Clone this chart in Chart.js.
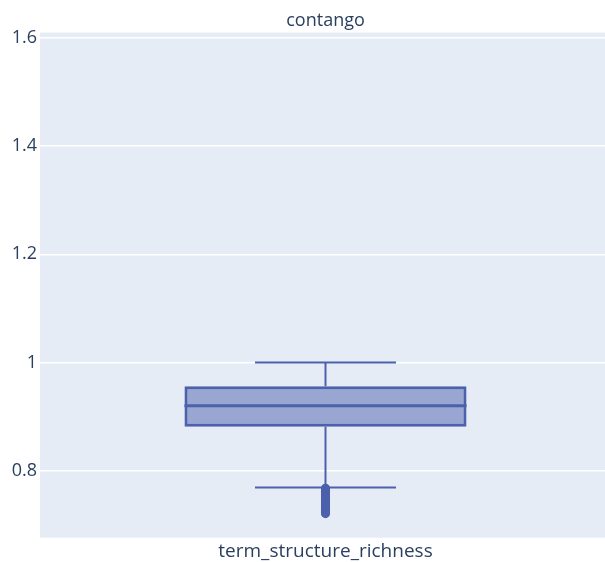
<!DOCTYPE html>
<html>
<head>
<meta charset="utf-8">
<script src="https://cdn.jsdelivr.net/npm/chart.js@4"></script>
<style>
  html, body { margin: 0; padding: 0; background: #fff; overflow: hidden; }
  #wrap { position: relative; width: 611px; height: 562px; }
  #chart { display: block; }
</style>
</head>
<body>
<div id="wrap"><canvas id="chart"></canvas></div>
<script>
const categories = ["term_structure_richness"];
const lowerFence = [0.7686];
const q1 = [0.881];
const median = [0.920];
const q3 = [0.956];
const upperFence = [1.0];
const outliers = [0.7675, 0.766, 0.764, 0.762, 0.760, 0.757, 0.755, 0.752, 0.749, 0.746,
  0.743, 0.740, 0.737, 0.734, 0.731, 0.728, 0.725, 0.7225, 0.7205];
const yTicks = [0.8, 1, 1.2, 1.4, 1.6];

const lineColor = "#4c60ab";
const textColor = "#2a3f5f";
const fontFamily = "'Open Sans', verdana, arial, sans-serif";

const plotBg = {
  id: "plotBg",
  beforeDraw(chart) {
    const { ctx, chartArea: a } = chart;
    ctx.save();
    ctx.fillStyle = "#e5ecf6";
    ctx.fillRect(a.left, a.top, a.right - a.left, a.bottom - a.top);
    ctx.restore();
  }
};

// median line and whiskers, drawn from the bar element and the y scale
const boxParts = {
  id: "boxParts",
  afterDatasetDraw(chart, args) {
    if (args.index !== 1) return;
    const { ctx } = chart;
    const y = chart.scales.y;
    args.meta.data.forEach((bar, i) => {
      const cx = bar.x;
      const half = bar.width / 2;
      ctx.save();
      ctx.strokeStyle = lineColor;
      ctx.lineWidth = 3;
      ctx.beginPath();
      ctx.moveTo(cx - half, y.getPixelForValue(median[i]));
      ctx.lineTo(cx + half, y.getPixelForValue(median[i]));
      ctx.stroke();
      ctx.lineWidth = 2;
      ctx.beginPath();
      ctx.moveTo(cx, y.getPixelForValue(q3[i]));
      ctx.lineTo(cx, y.getPixelForValue(upperFence[i]));
      ctx.moveTo(cx - half / 2, y.getPixelForValue(upperFence[i]));
      ctx.lineTo(cx + half / 2, y.getPixelForValue(upperFence[i]));
      ctx.moveTo(cx, y.getPixelForValue(q1[i]));
      ctx.lineTo(cx, y.getPixelForValue(lowerFence[i]));
      ctx.moveTo(cx - half / 2, y.getPixelForValue(lowerFence[i]));
      ctx.lineTo(cx + half / 2, y.getPixelForValue(lowerFence[i]));
      ctx.stroke();
      ctx.restore();
    });
  }
};

new Chart(document.getElementById("chart"), {
  data: {
    labels: categories,
    datasets: [
      {
        type: "line",
        order: 0,
        showLine: false,
        data: outliers.map((v) => ({ x: categories[0], y: v })),
        pointRadius: 4.5,
        pointBackgroundColor: lineColor,
        pointBorderWidth: 0
      },
      {
        type: "bar",
        order: 1,
        data: categories.map((c, i) => [q1[i], q3[i]]),
        backgroundColor: "rgba(76,96,171,0.5)",
        borderColor: lineColor,
        borderWidth: 3,
        borderSkipped: false,
        barPercentage: 0.494,
        categoryPercentage: 1
      }
    ]
  },
  options: {
    responsive: true,
    maintainAspectRatio: false,
    animation: false,
    layout: { autoPadding: false, padding: 0 },
    plugins: {
      legend: { display: false },
      tooltip: { enabled: false },
      title: {
        display: true,
        text: "contango",
        fullSize: false,
        color: textColor,
        font: { family: fontFamily, size: 18, weight: "normal" },
        padding: { top: 10, bottom: 1 }
      }
    },
    scales: {
      x: {
        afterFit: (scale) => { scale.height = 24.3; },
        grid: { display: false, drawTicks: false },
        border: { display: false },
        ticks: { color: textColor, font: { family: fontFamily, size: 19 }, padding: 2.5 }
      },
      y: {
        min: 0.676,
        max: 1.6098,
        afterBuildTicks: (scale) => { scale.ticks = yTicks.map((v) => ({ value: v })); },
        afterFit: (scale) => { scale.width = 40; },
        grid: { color: "#ffffff", lineWidth: 1.5, drawTicks: false },
        border: { display: false },
        ticks: {
          color: textColor,
          font: { family: fontFamily, size: 18 },
          padding: 3,
          callback: (v) => String(v)
        }
      }
    }
  },
  plugins: [plotBg, boxParts]
});
</script>
</body>
</html>
